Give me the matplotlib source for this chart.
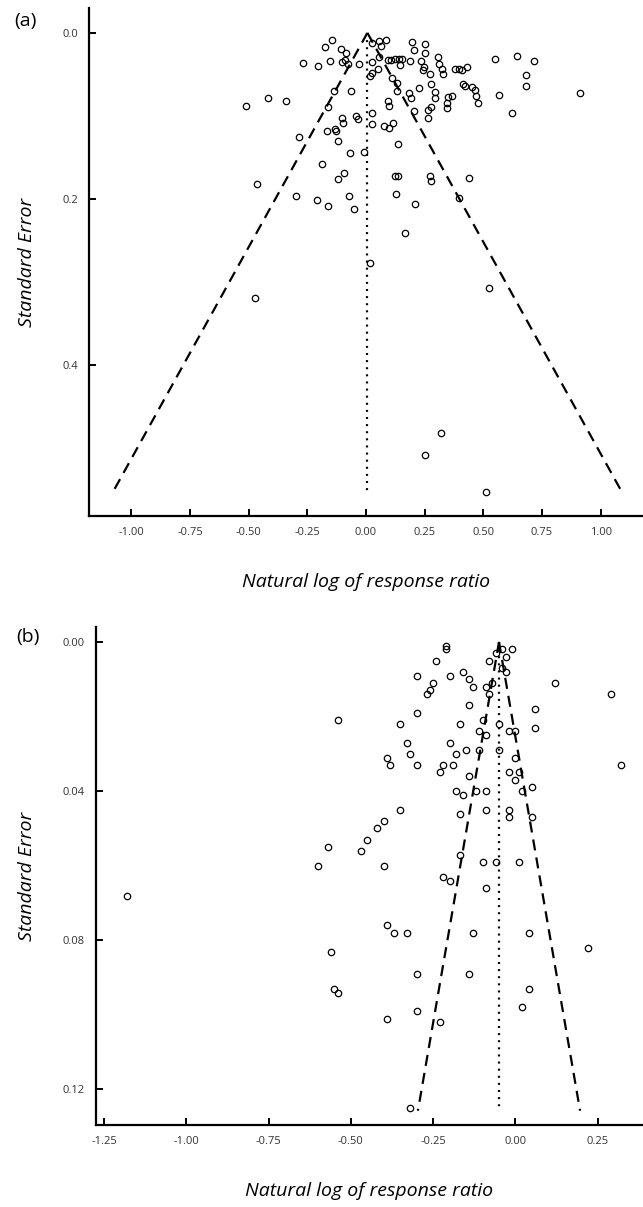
import matplotlib
matplotlib.use('Agg')
import matplotlib.pyplot as plt
import numpy as np

plt.rcParams['font.family'] = ['Open Sans', 'DejaVu Sans']

# panel (a) : log response ratio vs standard error
a_lnrr = [-0.143, -0.175, -0.106, -0.087, -0.268, -0.203, -0.152, -0.104, -0.088, -0.078,
          -0.031, 0.024, 0.055, 0.084, 0.065, 0.024, 0.055, 0.050, 0.024, 0.017,
          0.094, 0.105, 0.122, 0.140, 0.155, 0.143, 0.186, 0.195, 0.206, 0.253,
          0.253, 0.236, 0.246, 0.242, 0.273, 0.308, 0.312, 0.323, 0.328, 0.378,
          0.398, 0.409, 0.429, 0.551, 0.643, 0.717, 0.680, 0.680, 0.912, 0.567,
          0.622, 0.412, 0.423, 0.453, 0.466, 0.470, 0.476, 0.351, 0.368, 0.344,
          0.346, 0.295, 0.295, 0.224, 0.276, 0.182, 0.193, 0.112, 0.132, 0.131,
          0.094, 0.098, 0.206, 0.265, 0.276, 0.265, -0.135, -0.063, -0.160, -0.416,
          -0.340, -0.511, 0.027, 0.027, -0.101, -0.097, -0.044, -0.035, 0.077, 0.099,
          0.116, -0.284, -0.166, -0.131, -0.128, -0.119, -0.068, -0.007, 0.136, -0.189,
          -0.095, -0.119, 0.124, 0.136, 0.271, 0.276, -0.464, -0.300, -0.207, -0.161,
          -0.072, -0.052, 0.129, 0.209, 0.167, 0.016, -0.473, 0.440, 0.398, 0.524,
          0.318, 0.250, 0.510]
a_se = [0.008, 0.017, 0.020, 0.024, 0.036, 0.040, 0.034, 0.035, 0.033, 0.037,
        0.037, 0.012, 0.010, 0.008, 0.016, 0.035, 0.029, 0.044, 0.048, 0.052,
        0.033, 0.033, 0.032, 0.031, 0.031, 0.039, 0.034, 0.011, 0.021, 0.014,
        0.024, 0.034, 0.041, 0.045, 0.049, 0.029, 0.037, 0.043, 0.049, 0.043,
        0.043, 0.045, 0.041, 0.031, 0.028, 0.034, 0.051, 0.064, 0.072, 0.075,
        0.097, 0.061, 0.064, 0.065, 0.069, 0.076, 0.084, 0.077, 0.076, 0.084,
        0.091, 0.071, 0.078, 0.066, 0.062, 0.072, 0.078, 0.054, 0.060, 0.070,
        0.082, 0.088, 0.094, 0.093, 0.089, 0.103, 0.070, 0.070, 0.089, 0.078,
        0.082, 0.088, 0.096, 0.110, 0.103, 0.109, 0.100, 0.104, 0.112, 0.114,
        0.109, 0.126, 0.118, 0.116, 0.118, 0.130, 0.145, 0.143, 0.134, 0.158,
        0.169, 0.176, 0.172, 0.173, 0.173, 0.178, 0.182, 0.196, 0.201, 0.209,
        0.196, 0.212, 0.194, 0.206, 0.241, 0.277, 0.319, 0.175, 0.199, 0.307,
        0.482, 0.509, 0.553]
a_mean = 0.006
a_se_max = 0.552
a_xticks = [-1.00, -0.75, -0.50, -0.25, 0.00, 0.25, 0.50, 0.75, 1.00]
a_yticks = [0.0, 0.2, 0.4]

# panel (b)
b_lnrr = [-1.18, -0.60, -0.57, -0.54, -0.56, -0.55, -0.54, -0.47, -0.45, -0.42,
          -0.40, -0.40, -0.39, -0.38, -0.39, -0.37, -0.39, -0.35, -0.35, -0.33,
          -0.33, -0.32, -0.30, -0.30, -0.30, -0.30, -0.30, -0.27, -0.26, -0.25,
          -0.24, -0.23, -0.22, -0.22, -0.21, -0.21, -0.20, -0.20, -0.23, -0.20,
          -0.19, -0.18, -0.17, -0.18, -0.17, -0.17, -0.16, -0.16, -0.15, -0.14,
          -0.14, -0.14, -0.14, -0.13, -0.13, -0.12, -0.11, -0.11, -0.10, -0.10,
          -0.09, -0.09, -0.09, -0.09, -0.09, -0.08, -0.08, -0.07, -0.06, -0.06,
          -0.05, -0.05, -0.04, -0.04, -0.03, -0.03, -0.02, -0.02, -0.02, -0.02,
          -0.01, 0.00, 0.00, 0.00, 0.01, 0.01, 0.02, 0.02, 0.04, 0.04,
          0.05, 0.05, 0.06, 0.06, 0.12, 0.22, 0.29, 0.32, -0.32]
b_se = [0.068, 0.060, 0.055, 0.021, 0.083, 0.093, 0.094, 0.056, 0.053, 0.050,
        0.060, 0.048, 0.031, 0.033, 0.076, 0.078, 0.101, 0.045, 0.022, 0.027,
        0.078, 0.030, 0.033, 0.019, 0.009, 0.089, 0.099, 0.014, 0.013, 0.011,
        0.005, 0.035, 0.033, 0.063, 0.002, 0.001, 0.027, 0.064, 0.102, 0.009,
        0.033, 0.030, 0.022, 0.040, 0.046, 0.057, 0.041, 0.008, 0.029, 0.010,
        0.017, 0.089, 0.036, 0.012, 0.078, 0.040, 0.029, 0.024, 0.021, 0.059,
        0.012, 0.025, 0.040, 0.045, 0.066, 0.014, 0.005, 0.011, 0.003, 0.059,
        0.029, 0.022, 0.007, 0.002, 0.004, 0.008, 0.035, 0.024, 0.045, 0.047,
        0.002, 0.024, 0.031, 0.037, 0.035, 0.059, 0.040, 0.098, 0.078, 0.093,
        0.039, 0.047, 0.023, 0.018, 0.011, 0.082, 0.014, 0.033, 0.125]
b_mean = -0.05
b_se_max = 0.1257
b_xticks = [-1.25, -1.00, -0.75, -0.50, -0.25, 0.00, 0.25]
b_yticks = [0.00, 0.04, 0.08, 0.12]


def funnel(ax, x, se, mean, se_max):
    s = np.array([0.0, se_max])
    ax.plot(mean - 1.96 * s, s, color='black', lw=1.6, ls=(0, (5, 3.2)), zorder=2)
    ax.plot(mean + 1.96 * s, s, color='black', lw=1.6, ls=(0, (5, 3.2)), zorder=2)
    ax.plot([mean, mean], [0.0, se_max], color='black', lw=1.6, ls=(0, (0.9, 2.3)), zorder=2)
    ax.plot(x, se, 'o', mfc='none', mec='black', ms=4.6, mew=0.9, zorder=3)


def style(ax, xticks, yticks, fmt_x, fmt_y):
    for s in ['top', 'right']:
        ax.spines[s].set_visible(False)
    for s in ['left', 'bottom']:
        ax.spines[s].set_linewidth(1.6)
    ax.set_xticks(xticks)
    ax.set_xticklabels([fmt_x % t for t in xticks])
    ax.set_yticks(yticks)
    ax.set_yticklabels([fmt_y % t for t in yticks])
    ax.tick_params(direction='in', length=5, width=1.4, labelsize=8, labelcolor='#333333', pad=8)
    ax.set_xlabel('Natural log of response ratio', fontsize=14, style='italic', labelpad=25)
    ax.set_ylabel('Standard Error', fontsize=14, style='italic', labelpad=19)


fig = plt.figure(figsize=(6.43, 12.07), dpi=100)

ax1 = fig.add_axes([0.1384, 0.5725, 0.8616, 0.4209])
funnel(ax1, a_lnrr, a_se, a_mean, a_se_max)
ax1.set_xlim(-1.18, 1.18)
ax1.set_ylim(0.582, -0.030)
style(ax1, a_xticks, a_yticks, '%.2f', '%.1f')
fig.text(0.022, 0.983, '(a)', fontsize=14, va='center')

ax2 = fig.add_axes([0.149, 0.068, 0.851, 0.4125])
funnel(ax2, b_lnrr, b_se, b_mean, b_se_max)
ax2.set_xlim(-1.275, 0.3875)
ax2.set_ylim(0.1295, -0.004)
style(ax2, b_xticks, b_yticks, '%.2f', '%.2f')
fig.text(0.025, 0.472, '(b)', fontsize=14, va='center')

fig.savefig('out.png', dpi=100)
